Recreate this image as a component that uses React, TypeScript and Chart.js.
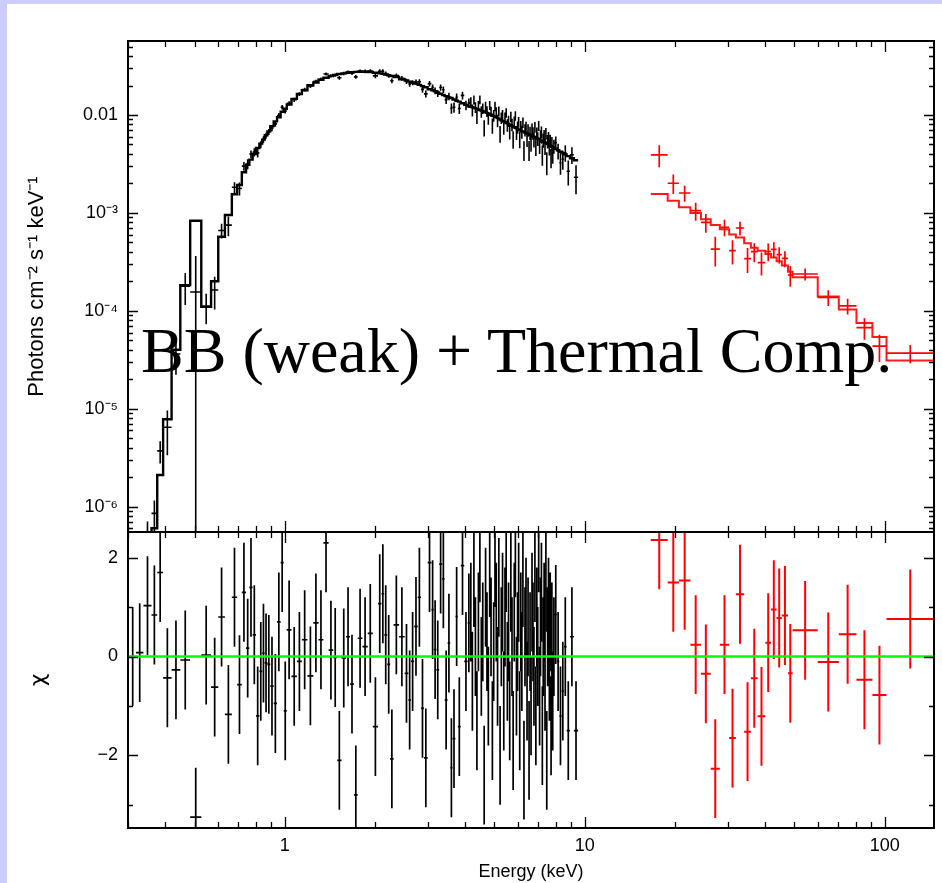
import React, { useEffect, useRef } from 'react';
import { Chart, registerables } from 'chart.js';

Chart.register(...registerables);

// ---------- axes ----------
const X_MIN = 0.3;
const X_MAX = 146;
const FLUX_MIN = 5.5e-7;
const FLUX_MAX = 0.057;
const CHI_MIN = -3.47;
const CHI_MAX = 2.52;

const X_TICKS = [1, 10, 100];
const X_TICK_LABELS = ['1', '10', '100'];
const X_MINOR_TICKS = [0.3, 0.4, 0.5, 0.6, 0.7, 0.8, 0.9, 2, 3, 4, 5, 6, 7, 8, 9, 20, 30, 40, 50, 60, 70, 80, 90];
const FLUX_TICKS = [1e-6, 1e-5, 1e-4, 1e-3, 1e-2];
const FLUX_TICK_LABELS = ['10\u207B\u2076', '10\u207B\u2075', '10\u207B\u2074', '10\u207B\u00B3', '0.01'];
const FLUX_MINOR_TICKS = [
  6e-7, 7e-7, 8e-7, 9e-7,
  2e-6, 3e-6, 4e-6, 5e-6, 6e-6, 7e-6, 8e-6, 9e-6,
  2e-5, 3e-5, 4e-5, 5e-5, 6e-5, 7e-5, 8e-5, 9e-5,
  2e-4, 3e-4, 4e-4, 5e-4, 6e-4, 7e-4, 8e-4, 9e-4,
  2e-3, 3e-3, 4e-3, 5e-3, 6e-3, 7e-3, 8e-3, 9e-3,
  2e-2, 3e-2, 4e-2, 5e-2,
];
const CHI_TICKS = [-2, 0, 2];
const CHI_TICK_LABELS = ['\u22122', '0', '2'];
const CHI_MINOR_TICKS = [-3, -1, 1];

// ---------- black spectrum (soft band) ----------
const BLACK_E = [
  0.311, 0.327, 0.349, 0.370, 0.381, 0.405, 0.434, 0.463, 0.505, 0.549,
  0.587, 0.613, 0.650, 0.682, 0.705, 0.733, 0.752, 0.771, 0.791, 0.812,
  0.833, 0.848, 0.866, 0.883, 0.906, 0.930, 0.954, 0.983, 1.00, 1.03,
  1.075, 1.12, 1.16, 1.22, 1.27, 1.32, 1.37, 1.43, 1.47, 1.52,
  1.57, 1.63, 1.67, 1.73, 1.77, 1.86, 1.92, 2.01, 2.08, 2.12,
  2.17, 2.22, 2.27, 2.34, 2.47, 2.55, 2.61, 2.66, 2.74, 2.81,
  2.88, 2.94, 3.05, 3.11, 3.17, 3.23, 3.31, 3.38, 3.44, 3.54,
  3.58, 3.67, 3.74, 3.81, 3.91, 4.02, 4.12,
  4.17, 4.22, 4.27, 4.32, 4.37, 4.42, 4.47, 4.52, 4.57, 4.62,
  4.67, 4.72, 4.77, 4.82, 4.87, 4.92, 4.97, 5.02, 5.07, 5.12,
  5.17, 5.22, 5.27, 5.32, 5.37, 5.42, 5.47, 5.52, 5.57, 5.62,
  5.67, 5.72, 5.77, 5.82, 5.87, 5.92, 5.97, 6.02, 6.07, 6.12,
  6.17, 6.22, 6.27, 6.32, 6.37, 6.42, 6.47, 6.52, 6.57, 6.62,
  6.67, 6.72, 6.77, 6.82, 6.87, 6.92, 6.97, 7.02, 7.07, 7.12,
  7.17, 7.22, 7.27, 7.32, 7.37, 7.42, 7.47, 7.52, 7.57, 7.62,
  7.67, 7.72, 7.77, 7.82, 7.87,
  8.00, 8.15, 8.30, 8.45, 8.60, 8.80, 9.05, 9.35,
];
const BLACK_MODEL = [
  1.2e-7, 2.0e-7, 3.5e-7, 6.0e-7, 2.1e-6, 7.8e-6, 4.0e-5, 1.83e-4, 8.3e-4, 1.1e-4,
  2.0e-4, 5.7e-4, 9.5e-4, 1.55e-3, 1.93e-3, 2.6e-3, 3.1e-3, 3.5e-3, 4.0e-3, 4.6e-3,
  5.1e-3, 5.6e-3, 6.2e-3, 6.8e-3, 7.7e-3, 8.6e-3, 9.5e-3, 1.08e-2, 1.16e-2, 1.28e-2,
  1.46e-2, 1.64e-2, 1.79e-2, 2.01e-2, 2.15e-2, 2.29e-2, 2.40e-2, 2.50e-2, 2.56e-2, 2.62e-2,
  2.66e-2, 2.70e-2, 2.73e-2, 2.76e-2, 2.77e-2, 2.77e-2, 2.75e-2, 2.70e-2, 2.66e-2, 2.63e-2,
  2.59e-2, 2.55e-2, 2.50e-2, 2.44e-2, 2.32e-2, 2.25e-2, 2.19e-2, 2.15e-2, 2.09e-2, 2.03e-2,
  1.97e-2, 1.92e-2, 1.83e-2, 1.79e-2, 1.75e-2, 1.70e-2, 1.65e-2, 1.60e-2, 1.56e-2, 1.51e-2,
  1.49e-2, 1.44e-2, 1.40e-2, 1.37e-2, 1.32e-2, 1.27e-2, 1.23e-2,
  1.215e-2, 1.200e-2, 1.185e-2, 1.170e-2, 1.155e-2, 1.140e-2, 1.125e-2, 1.110e-2, 1.095e-2, 1.080e-2,
  1.065e-2, 1.050e-2, 1.035e-2, 1.020e-2, 1.005e-2, 9.90e-3, 9.75e-3, 9.60e-3, 9.45e-3, 9.30e-3,
  9.15e-3, 9.00e-3, 8.85e-3, 8.70e-3, 8.58e-3, 8.46e-3, 8.34e-3, 8.22e-3, 8.10e-3, 7.98e-3,
  7.86e-3, 7.74e-3, 7.62e-3, 7.50e-3, 7.40e-3, 7.30e-3, 7.20e-3, 7.10e-3, 7.00e-3, 6.92e-3,
  6.85e-3, 6.77e-3, 6.70e-3, 6.63e-3, 6.55e-3, 6.48e-3, 6.41e-3, 6.34e-3, 6.27e-3, 6.20e-3,
  6.13e-3, 6.06e-3, 6.00e-3, 5.93e-3, 5.87e-3, 5.80e-3, 5.74e-3, 5.68e-3, 5.61e-3, 5.55e-3,
  5.48e-3, 5.42e-3, 5.36e-3, 5.30e-3, 5.24e-3, 5.18e-3, 5.12e-3, 5.06e-3, 5.00e-3, 4.94e-3,
  4.88e-3, 4.82e-3, 4.76e-3, 4.70e-3, 4.65e-3,
  4.52e-3, 4.37e-3, 4.22e-3, 4.08e-3, 3.96e-3, 3.80e-3, 3.62e-3, 3.45e-3,
];
const BLACK_CHI = [
  0.0, 0.08, 1.03, 0.84, 1.7, -0.43, -0.27, -0.07, -3.25, 0.03,
  -0.62, 0.8, -1.17, 1.2, -0.57, 1.3, 0.17, 1.4, 0.44, -1.2,
  -0.3, 0.07, -0.13, -0.16, -0.6, -0.95, 0.7, 1.9, -1.1, 0.54,
  -0.4, -0.1, 0.34, -0.39, 0.68, 0.34, 2.3, 0.13, -0.02, -2.1,
  -0.03, 0.4, -0.56, -2.8, 0.37, 0.2, 0.47, -1.42, 1.07, 1.27,
  0.44, -0.16, -2.07, 0.64, 0.4, -0.34, -0.88, -0.1, 0.61, 1.2,
  -1.05, -2.05, 1.9, 0.95, 0.14, -0.27, 1.87, 1.57, -0.88, 0.27,
  -2.25, -1.66, 0.81, -1.42, 1.84, -0.1, 0.68,
  0.9, -0.5, 1.6, 0.2, -1.3, 0.7, 2.1, -0.2, 0.5, -2.4,
  1.2, 0.3, -0.8, 1.8, 0.6, -1.5, 0.1, 2.0, 0.9, -0.4,
  1.4, -2.0, 0.4, 1.1, -0.9, 0.8, 1.9, -0.3, 0.5, -1.1,
  1.5, 0.2, -1.7, 0.9, 2.2, -0.6, 0.3, 1.3, -1.3, 0.7,
  -0.1, 1.6, -2.3, 0.4, 1.0, -0.7, 0.6, -1.9, 0.3, -1.0,
  1.1, 0.5, -0.4, 1.7, -1.2, 0.8, 0.0, 2.3, -0.8, 0.6,
  1.3, -1.6, 0.2, 0.9, -0.5, 1.5, -2.1, 0.4, 1.0, -0.3,
  0.7, -1.4, 0.5, -0.9, 0.2,
  0.85, -0.1, -1.2, -0.7, 0.2, -1.5, 0.4, -1.5,
];
const BLACK_RELERR = [
  0.5, 0.5, 0.5, 0.5, 0.45, 0.4, 0.35, 0.35, 0.25, 0.35,
  0.3, 0.2, 0.18, 0.15, 0.14, 0.12, 0.12, 0.1, 0.1, 0.09,
  0.08, 0.08, 0.07, 0.07, 0.07, 0.06, 0.06, 0.06, 0.05, 0.05,
  0.05, 0.045, 0.045, 0.045, 0.04, 0.04, 0.04, 0.04, 0.04, 0.04,
  0.04, 0.04, 0.04, 0.04, 0.04, 0.045, 0.045, 0.05, 0.05, 0.05,
  0.05, 0.05, 0.05, 0.055, 0.055, 0.06, 0.06, 0.06, 0.065, 0.065,
  0.07, 0.07, 0.075, 0.075, 0.08, 0.08, 0.085, 0.085, 0.09, 0.09,
  0.095, 0.1, 0.1, 0.105, 0.11, 0.11, 0.12,
  0.13, 0.13, 0.13, 0.13, 0.13, 0.13, 0.13, 0.13, 0.13, 0.13,
  0.13, 0.13, 0.13, 0.13, 0.13, 0.14, 0.14, 0.14, 0.14, 0.14,
  0.14, 0.14, 0.14, 0.14, 0.14, 0.14, 0.14, 0.14, 0.14, 0.14,
  0.15, 0.15, 0.15, 0.15, 0.15, 0.15, 0.15, 0.15, 0.15, 0.15,
  0.15, 0.15, 0.15, 0.15, 0.15, 0.16, 0.16, 0.16, 0.16, 0.16,
  0.16, 0.16, 0.16, 0.16, 0.16, 0.16, 0.16, 0.16, 0.16, 0.16,
  0.17, 0.17, 0.17, 0.17, 0.17, 0.17, 0.17, 0.17, 0.17, 0.17,
  0.17, 0.17, 0.17, 0.17, 0.17,
  0.18, 0.18, 0.19, 0.19, 0.2, 0.2, 0.21, 0.22,
];

// ---------- red spectrum (hard band) ----------
const RED_EDGES = [16.6, 18.9, 20.6, 22.5, 24.4, 26.3, 28.2, 30.3, 31.9, 34.0, 35.8, 37.7, 40.0, 41.8, 43.6, 45.4, 47.6, 49.3, 59.8, 70.3, 80.5, 91.0, 101.4, 146];
const RED_MODEL = [1.56e-3, 1.33e-3, 1.14e-3, 1.0e-3, 8.6e-4, 7.5e-4, 6.8e-4, 6.0e-4, 5.6e-4, 4.9e-4, 4.4e-4, 4.1e-4, 3.8e-4, 3.5e-4, 3.2e-4, 2.9e-4, 2.5e-4, 2.2e-4, 1.4e-4, 1.03e-4, 7.5e-5, 5.4e-5, 3.1e-5];
const RED_CHI = [2.36, 1.5, 1.54, 0.24, -0.35, -2.27, 0.24, -1.65, 1.26, -1.52, -0.44, -1.21, 0.28, 0.95, 0.78, 0.83, -0.34, 0.53, -0.11, 0.45, -0.47, -0.78, 0.76];
const RED_RELERR = [0.64, 0.34, 0.26, 0.22, 0.2, 0.19, 0.2, 0.19, 0.2, 0.2, 0.2, 0.2, 0.22, 0.22, 0.22, 0.22, 0.22, 0.15, 0.18, 0.2, 0.22, 0.25, 0.25];

const ANNOTATION = 'BB (weak) + Thermal Comp.';
const Y_TITLE_TOP = 'Photons cm\u207B\u00B2 s\u207B\u00B9 keV\u207B\u00B9';
const Y_TITLE_BOTTOM = '\u03C7';
const X_TITLE = 'Energy (keV)';

// ---------- helpers ----------
type Pt = { x: number; y: number | null };

function edgesFromCenters(c: number[]) {
  const lo: number[] = [];
  const hi: number[] = [];
  for (let i = 0; i < c.length; i++) {
    const a = i > 0 ? Math.sqrt(c[i - 1] * c[i]) : (c[0] * c[0]) / Math.sqrt(c[0] * c[1]);
    const b = i < c.length - 1 ? Math.sqrt(c[i] * c[i + 1]) : (c[i] * c[i]) / Math.sqrt(c[i - 1] * c[i]);
    lo.push(a);
    hi.push(b);
  }
  return { lo, hi };
}

const POS = (v: number) => (v > 1e-12 ? v : 1e-12);

function stepLine(lo: number[], hi: number[], m: number[]): Pt[] {
  const out: Pt[] = [];
  for (let i = 0; i < m.length; i++) {
    out.push({ x: lo[i], y: m[i] }, { x: hi[i], y: m[i] });
  }
  return out;
}

function crossPts(lo: number[], hi: number[], y: number[], ylo: number[], yhi: number[]): Pt[] {
  const out: Pt[] = [];
  for (let i = 0; i < y.length; i++) {
    const xc = Math.sqrt(lo[i] * hi[i]);
    out.push({ x: lo[i], y: y[i] }, { x: hi[i], y: y[i] }, { x: hi[i], y: null });
    out.push({ x: xc, y: ylo[i] }, { x: xc, y: yhi[i] }, { x: xc, y: null });
  }
  return out;
}

function spectrumPts(lo: number[], hi: number[], model: number[], chi: number[], rel: number[]) {
  const d = model.map((m, i) => m * (1 + chi[i] * rel[i]));
  const e = model.map((m, i) => m * rel[i]);
  return crossPts(
    lo,
    hi,
    d.map(POS),
    d.map((v, i) => POS(v - e[i])),
    d.map((v, i) => POS(v + e[i]))
  );
}

function residualPts(lo: number[], hi: number[], chi: number[]) {
  return crossPts(lo, hi, chi, chi.map((c) => c - 1), chi.map((c) => c + 1));
}

const blackBins = edgesFromCenters(BLACK_E);
const redBins = {
  lo: RED_EDGES.slice(0, -1),
  hi: RED_EDGES.slice(1),
};

// ---------- frame + inward ticks ----------
const framePlugin = {
  id: 'xspecFrame',
  afterDatasetsDraw(chart: any, _args: any, opts: any) {
    const { ctx, chartArea } = chart;
    const { left, right, top, bottom } = chartArea;
    const xs = chart.scales.x;
    const ys = chart.scales.y;
    ctx.save();
    ctx.strokeStyle = '#000';
    ctx.lineWidth = 1.3;
    ctx.beginPath();
    const tx = (vals: number[], len: number) => {
      vals.forEach((v) => {
        if (v < xs.min || v > xs.max) return;
        const p = Math.round(xs.getPixelForValue(v)) + 0.5;
        ctx.moveTo(p, top);
        ctx.lineTo(p, top + len);
        ctx.moveTo(p, bottom);
        ctx.lineTo(p, bottom - len);
      });
    };
    const ty = (vals: number[], len: number) => {
      vals.forEach((v) => {
        if (v < ys.min || v > ys.max) return;
        const p = Math.round(ys.getPixelForValue(v)) + 0.5;
        ctx.moveTo(left, p);
        ctx.lineTo(left + len, p);
        ctx.moveTo(right, p);
        ctx.lineTo(right - len, p);
      });
    };
    tx(opts.xMajor, 11);
    tx(opts.xMinor, 6);
    ty(opts.yMajor, 10);
    ty(opts.yMinor, 5);
    ctx.stroke();
    ctx.lineWidth = 2;
    ctx.strokeRect(left, top, right - left, bottom - top);
    ctx.restore();
  },
};

const TICK_FONT = { family: "'Liberation Sans', Arial, sans-serif", size: 18 };

function lineDs(data: Pt[], color: string, width: number) {
  return {
    data,
    borderColor: color,
    backgroundColor: color,
    borderWidth: width,
    showLine: true,
    pointRadius: 0,
    pointHoverRadius: 0,
    spanGaps: false,
    tension: 0,
    clip: 0,
  };
}

const fixVertical = (s: any) => {
  s.width = 120;
  s.paddingTop = 0;
  s.paddingBottom = 0;
};

export default function App() {
  const topRef = useRef<HTMLCanvasElement | null>(null);
  const botRef = useRef<HTMLCanvasElement | null>(null);

  useEffect(() => {
    Chart.defaults.color = '#000';
    Chart.defaults.font.family = "'Liberation Sans', Arial, sans-serif";

    const top = new Chart(topRef.current as HTMLCanvasElement, {
      type: 'scatter',
      data: {
        datasets: [
          lineDs(stepLine(blackBins.lo, blackBins.hi, BLACK_MODEL), '#000000', 2.4),
          lineDs(spectrumPts(blackBins.lo, blackBins.hi, BLACK_MODEL, BLACK_CHI, BLACK_RELERR), '#000000', 1.6),
          lineDs(stepLine(redBins.lo, redBins.hi, RED_MODEL), 'rgba(255,0,0,0.9)', 2),
          lineDs(spectrumPts(redBins.lo, redBins.hi, RED_MODEL, RED_CHI, RED_RELERR), '#ff0000', 1.7),
        ] as any,
      },
      options: {
        responsive: false,
        animation: false,
        events: [],
        layout: { padding: { left: 8, top: 41, right: 8, bottom: 8 } },
        plugins: {
          legend: { display: false },
          tooltip: { enabled: false },
          xspecFrame: { xMajor: X_TICKS, xMinor: X_MINOR_TICKS, yMajor: FLUX_TICKS, yMinor: FLUX_MINOR_TICKS },
        } as any,
        scales: {
          x: { type: 'logarithmic', min: X_MIN, max: X_MAX, display: false },
          y: {
            type: 'logarithmic',
            min: FLUX_MIN,
            max: FLUX_MAX,
            afterFit: fixVertical,
            afterBuildTicks: (s: any) => {
              s.ticks = FLUX_TICKS.map((v) => ({ value: v }));
            },
            ticks: {
              autoSkip: false,
              padding: 10,
              font: TICK_FONT,
              color: '#000',
              callback: (v: any) => {
                const i = FLUX_TICKS.indexOf(Number(v));
                return i >= 0 ? FLUX_TICK_LABELS[i] : '';
              },
            },
            grid: { display: false, drawTicks: false },
            border: { display: false },
            title: {
              display: true,
              text: Y_TITLE_TOP,
              color: '#000',
              font: { family: "'Liberation Sans', Arial, sans-serif", size: 22 },
              padding: { top: 16, bottom: 0 },
            },
          },
        } as any,
      },
      plugins: [framePlugin],
    } as any);

    const bot = new Chart(botRef.current as HTMLCanvasElement, {
      type: 'scatter',
      data: {
        datasets: [
          lineDs([{ x: X_MIN, y: 0 }, { x: X_MAX, y: 0 }], '#00ff00', 2.5),
          lineDs(residualPts(blackBins.lo, blackBins.hi, BLACK_CHI), '#000000', 1.7),
          lineDs(residualPts(redBins.lo, redBins.hi, RED_CHI), '#ff0000', 2),
        ] as any,
      },
      options: {
        responsive: false,
        animation: false,
        events: [],
        layout: { padding: { left: 8, top: 2, right: 8, bottom: 0 } },
        plugins: {
          legend: { display: false },
          tooltip: { enabled: false },
          xspecFrame: { xMajor: X_TICKS, xMinor: X_MINOR_TICKS, yMajor: CHI_TICKS, yMinor: CHI_MINOR_TICKS },
        } as any,
        scales: {
          x: {
            type: 'logarithmic',
            min: X_MIN,
            max: X_MAX,
            afterFit: (s: any) => {
              s.height = 55;
              s.paddingLeft = 0;
              s.paddingRight = 0;
            },
            afterBuildTicks: (s: any) => {
              s.ticks = X_TICKS.map((v) => ({ value: v }));
            },
            ticks: {
              autoSkip: false,
              maxRotation: 0,
              padding: 7,
              font: TICK_FONT,
              color: '#000',
              callback: (v: any) => {
                const i = X_TICKS.indexOf(Number(v));
                return i >= 0 ? X_TICK_LABELS[i] : '';
              },
            },
            grid: { display: false, drawTicks: false },
            border: { display: false },
            title: {
              display: true,
              text: X_TITLE,
              color: '#000',
              font: { family: "'Liberation Sans', Arial, sans-serif", size: 18 },
              padding: { top: 0, bottom: 0 },
            },
          },
          y: {
            type: 'linear',
            min: CHI_MIN,
            max: CHI_MAX,
            afterFit: fixVertical,
            afterBuildTicks: (s: any) => {
              s.ticks = CHI_TICKS.map((v) => ({ value: v }));
            },
            ticks: {
              autoSkip: false,
              padding: 10,
              font: TICK_FONT,
              color: '#000',
              callback: (v: any) => {
                const i = CHI_TICKS.indexOf(Number(v));
                return i >= 0 ? CHI_TICK_LABELS[i] : '';
              },
            },
            grid: { display: false, drawTicks: false },
            border: { display: false },
            title: {
              display: true,
              text: Y_TITLE_BOTTOM,
              color: '#000',
              font: { family: "'DejaVu Sans', sans-serif", size: 22 },
              padding: { top: 18, bottom: 0 },
            },
          },
        } as any,
      },
      plugins: [framePlugin],
    } as any);

    return () => {
      top.destroy();
      bot.destroy();
    };
  }, []);

  return (
    <div
      style={{
        position: 'fixed',
        left: 0,
        top: 0,
        width: 942,
        height: 883,
        background: '#ccccff',
        overflow: 'hidden',
      }}
    >
      <div style={{ position: 'absolute', left: 7, top: 4, width: 935, height: 879, background: '#ffffff' }} />
      <canvas ref={topRef} width={942} height={540} style={{ position: 'absolute', left: 0, top: 0 }} />
      <canvas ref={botRef} width={942} height={353} style={{ position: 'absolute', left: 0, top: 530 }} />
      <div
        style={{
          position: 'absolute',
          left: 141,
          top: 319,
          fontFamily: "'Liberation Serif', 'Times New Roman', serif",
          fontSize: 64,
          lineHeight: '64px',
          color: '#000',
          whiteSpace: 'nowrap',
          pointerEvents: 'none',
        }}
      >
        {ANNOTATION}
      </div>
    </div>
  );
}
